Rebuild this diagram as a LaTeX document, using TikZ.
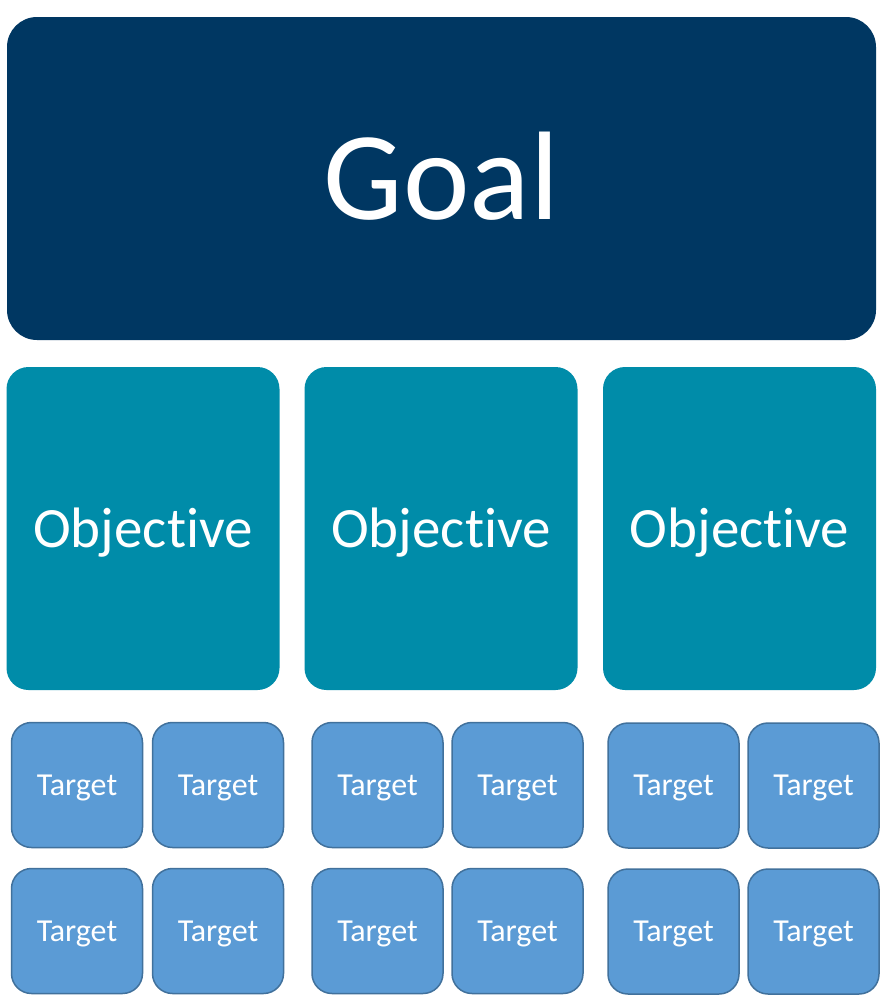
\documentclass[tikz,border=0pt]{standalone}
\usepackage{fontspec}
\setmainfont{Carlito}[Ligatures=NoCommon]
\definecolor{goalc}{HTML}{003762}
\definecolor{objc}{HTML}{008CA9}
\definecolor{tgtc}{HTML}{5B9BD5}
\definecolor{tgtb}{HTML}{41719C}
\begin{document}
\begin{tikzpicture}[x=1pt,y=-1pt,
  goalbox/.style={draw=none,fill=goalc,rounded corners=30pt,minimum width=869pt,minimum height=323pt,
    text=white,font=\fontsize{126}{126}\selectfont,text height=81pt,text depth=0pt,inner sep=0pt},
  objbox/.style={draw=none,fill=objc,rounded corners=22pt,minimum width=273pt,minimum height=323pt,
    text=white,font=\fontsize{57}{57}\selectfont,text height=37pt,text depth=0pt,inner sep=0pt},
  tgtbox/.style={draw=tgtb,line width=1.5pt,fill=tgtc,rounded corners=20pt,minimum width=131pt,minimum height=125pt,
    text=white,font=\fontsize{32}{32}\selectfont,text height=20.5pt,text depth=0pt,inner sep=0pt}]
\useasboundingbox (0,0) rectangle (883,1002);
\fill[white] (0,0) rectangle (883,1002);
\node[goalbox] (goal) at (441.5,178.5) {Goal};
\node[objbox] (obj1) at (143,528.5) {Objective};
\node[objbox] (obj2) at (441,528.5) {Objective};
\node[objbox] (obj3) at (739.5,528.5) {Objective};
% group 1
\node[tgtbox] (t11) at (77,785) {Target};
\node[tgtbox] (t12) at (218,785) {Target};
\node[tgtbox] (t13) at (77,931) {Target};
\node[tgtbox] (t14) at (218,931) {Target};
% group 2
\node[tgtbox] (t21) at (377.5,785) {Target};
\node[tgtbox] (t22) at (517.5,785) {Target};
\node[tgtbox] (t23) at (377.5,931) {Target};
\node[tgtbox] (t24) at (517.5,931) {Target};
% group 3
\node[tgtbox] (t31) at (673.5,785.5) {Target};
\node[tgtbox] (t32) at (813.5,785.5) {Target};
\node[tgtbox] (t33) at (673.5,931.5) {Target};
\node[tgtbox] (t34) at (813.5,931.5) {Target};
\end{tikzpicture}
\end{document}
